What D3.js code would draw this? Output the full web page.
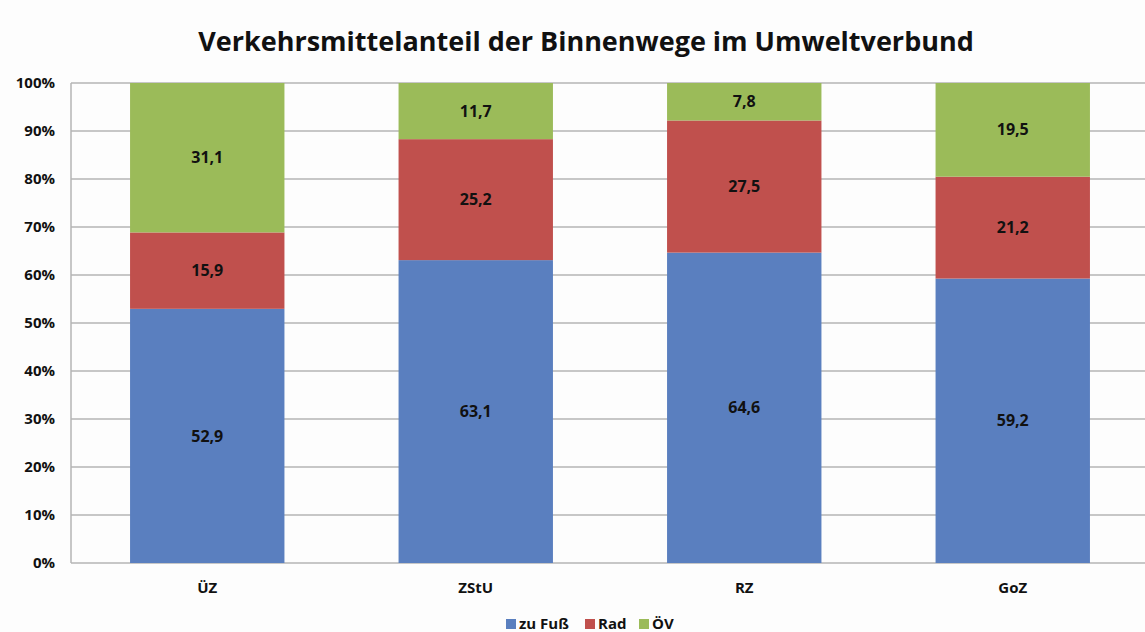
<!DOCTYPE html>
<html>
<head>
<meta charset="utf-8">
<script src="https://cdn.jsdelivr.net/npm/d3@7"></script>
<style>
  body { margin: 0; background: #fdfdfd; }
  text { font-family: "Open Sans", sans-serif; font-weight: bold; fill: #111; }
</style>
</head>
<body>
<script>
const categories = ['ÜZ', 'ZStU', 'RZ', 'GoZ'];
const seriesNames = ['zu Fuß', 'Rad', 'ÖV'];
const fuss = [52.9, 63.1, 64.6, 59.2];
const rad = [15.9, 25.2, 27.5, 21.2];
const oev = [31.1, 11.7, 7.8, 19.5];
const yTicks = [0, 0.1, 0.2, 0.3, 0.4, 0.5, 0.6, 0.7, 0.8, 0.9, 1];

const colors = ['#5a7fbf', '#c0504d', '#9bbb59'];

const width = 1145;
const height = 632;
const margin = { top: 83, right: 0, bottom: 69, left: 71 };

const data = categories.map((c, i) => ({
  cat: c, 'zu Fuß': fuss[i], 'Rad': rad[i], 'ÖV': oev[i]
}));

const stack = d3.stack().keys(seriesNames).offset(d3.stackOffsetExpand);
const layers = stack(data);

const svg = d3.select('body')
  .append('svg')
    .attr('width', width)
    .attr('height', height);

const x = d3.scaleBand()
  .domain(categories)
  .range([margin.left + 2, width - margin.right + 2])
  .paddingInner(0.425)
  .paddingOuter(0.2125);

const y = d3.scaleLinear()
  .domain([0, 1])
  .range([height - margin.bottom, margin.top]);

// gridlines
svg.append('g')
  .selectAll('line')
  .data(yTicks)
  .enter()
  .append('line')
    .attr('x1', margin.left)
    .attr('x2', width)
    .attr('y1', d => y(d))
    .attr('y2', d => y(d))
    .attr('stroke', '#b4b4b4')
    .attr('stroke-width', 1.5);

svg.append('line')
  .attr('x1', margin.left)
  .attr('x2', margin.left)
  .attr('y1', y(0))
  .attr('y2', y(1))
  .attr('stroke', '#b4b4b4')
  .attr('stroke-width', 1.5);

// y labels
svg.append('g')
  .selectAll('text')
  .data(yTicks)
  .enter()
  .append('text')
    .attr('x', 55)
    .attr('y', d => y(d))
    .attr('dy', '0.35em')
    .attr('text-anchor', 'end')
    .style('font-size', '15px')
    .text(d3.format('.0%'));

// bars
const groups = svg.append('g')
  .selectAll('g')
  .data(layers)
  .enter()
  .append('g')
    .attr('fill', (d, i) => colors[i]);

groups.selectAll('rect')
  .data(d => d)
  .enter()
  .append('rect')
    .attr('x', d => x(d.data.cat))
    .attr('width', x.bandwidth())
    .attr('y', d => y(d[1]))
    .attr('height', d => y(d[0]) - y(d[1]));

groups.each(function(layer) {
  d3.select(this)
    .selectAll('text')
    .data(layer)
    .enter()
    .append('text')
      .attr('x', d => x(d.data.cat) + x.bandwidth() / 2)
      .attr('y', d => y((d[0] + d[1]) / 2))
      .attr('dy', '0.35em')
      .attr('text-anchor', 'middle')
      .style('font-size', '16px')
      .text(d => d3.format('.1f')(d.data[layer.key]).replace('.', ','));
});

// x labels
svg.append('g')
  .selectAll('text')
  .data(categories)
  .enter()
  .append('text')
    .attr('x', d => x(d) + x.bandwidth() / 2)
    .attr('y', 588)
    .attr('dy', '0.35em')
    .attr('text-anchor', 'middle')
    .style('font-size', '15px')
    .text(d => d);

// title
svg.append('text')
  .attr('x', 586)
  .attr('y', 42)
  .attr('dy', '0.35em')
  .attr('text-anchor', 'middle')
  .style('font-size', '27px')
  .text('Verkehrsmittelanteil der Binnenwege im Umweltverbund');

// legend
const legendX = [506, 585, 639];
const legend = svg.append('g')
  .selectAll('g')
  .data(seriesNames)
  .enter()
  .append('g')
    .attr('transform', (d, i) => `translate(${legendX[i]},624)`);

legend.append('rect')
  .attr('x', 0)
  .attr('y', -5)
  .attr('width', 10)
  .attr('height', 10)
  .attr('fill', (d, i) => colors[i]);

legend.append('text')
  .attr('x', 13)
  .attr('y', 0)
  .attr('dy', '0.35em')
  .style('font-size', '15px')
  .text(d => d);
</script>
</body>
</html>
